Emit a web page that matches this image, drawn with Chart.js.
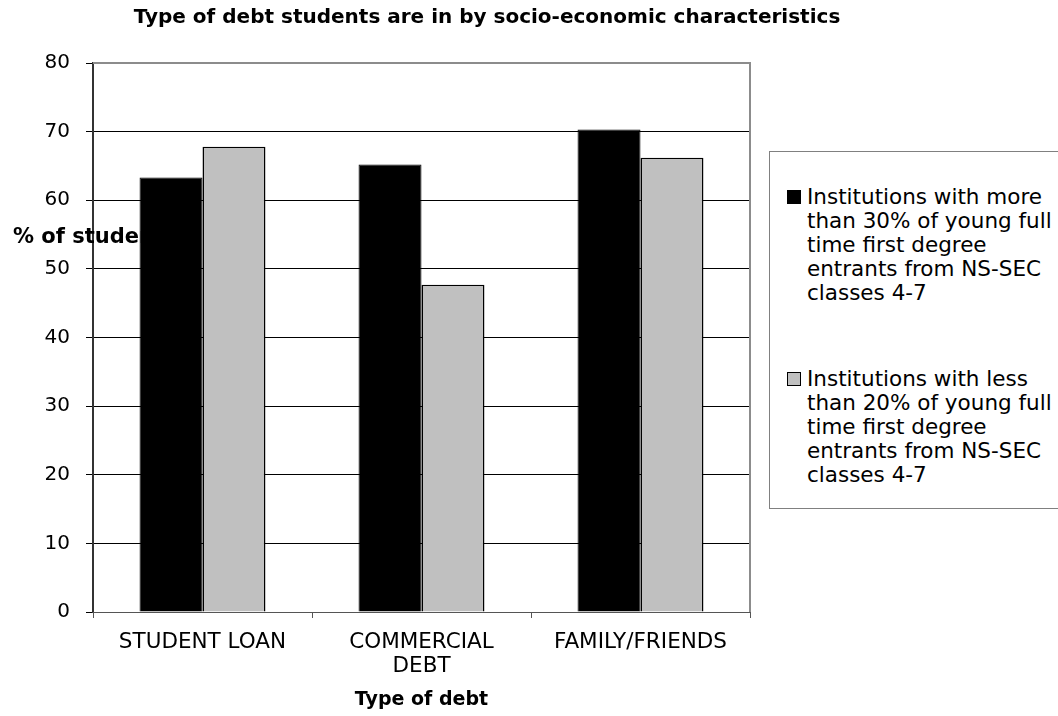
<!DOCTYPE html>
<html>
<head>
<meta charset="utf-8">
<script src="https://cdn.jsdelivr.net/npm/chart.js@4.4.0/dist/chart.umd.min.js"></script>
<style>
    body { margin: 0; background: #fff; }
    #quadro { position: relative; width: 1058px; height: 716px; overflow: hidden; }
    #grafico { position: absolute; left: 0; top: 0; }
    #legenda {
        position: absolute; left: 769px; top: 151px; width: 320px; height: 358px;
        border: 1px solid #808080; box-sizing: border-box; background: #fff;
        font-family: "DejaVu Sans", Verdana, sans-serif; font-size: 21.5px; line-height: 24px; color: #000;
    }
    .item { position: absolute; left: 37px; width: 262px; }
    .caixa { position: absolute; left: -20px; top: 5px; width: 14px; height: 14px; box-sizing: border-box; border: 1px solid #000; }
</style>
</head>
<body>
<div id="quadro">
    <canvas id="grafico" width="1058" height="716"></canvas>
    <div id="legenda"></div>
</div>
<script>
// dados do grafico
const categorias = ['STUDENT LOAN', ['COMMERCIAL', 'DEBT'], 'FAMILY/FRIENDS']
const nomesSeries = [
    'Institutions with more than 30% of young full time first degree entrants from NS-SEC classes 4-7',
    'Institutions with less than 20% of young full time first degree entrants from NS-SEC classes 4-7'
]
const maisDe30 = [63.3, 65.2, 70.3]
const menosDe20 = [67.8, 47.7, 66.2]
const ticksY = [0, 10, 20, 30, 40, 50, 60, 70, 80]

const cores = ['#000000', '#c0c0c0']

// legenda em html (texto quebrado em varias linhas)
let txt = ``
const topos = [33, 215]
for (i = 0; i < nomesSeries.length; i++) {
    txt = txt + `
    <div class="item" style="top:${topos[i]}px">
        <span class="caixa" style="background:${cores[i]}"></span>${nomesSeries[i]}
    </div>`
}
document.getElementById('legenda').innerHTML = txt

// textos desenhados no canvas: titulo e rotulo do eixo y (fica por baixo das barras)
const textos = {
    id: 'textos',
    beforeDatasetsDraw(chart) {
        const c = chart.ctx
        c.save()
        c.fillStyle = '#000'
        c.textBaseline = 'middle'
        c.font = 'bold 21px "DejaVu Sans"'
        c.textAlign = 'left'
        c.fillText('% of students', 13, 238)
        c.font = 'bold 20px "DejaVu Sans"'
        c.textAlign = 'center'
        c.fillText('Type of debt students are in by socio-economic characteristics', 487, 18)
        c.restore()
    },
    afterDatasetsDraw(chart) {
        const a = chart.chartArea
        const c = chart.ctx
        c.save()
        c.strokeStyle = '#8c8c8c'
        c.lineWidth = 2
        c.beginPath()
        c.moveTo(a.left, a.top)
        c.lineTo(a.right, a.top)
        c.lineTo(a.right, a.bottom)
        c.stroke()
        c.restore()
    }
}

var ctx = document.getElementById('grafico')

myChart = new Chart(ctx, {
    type: 'bar',
    data: {
        labels: categorias,
        datasets: [{
            label: nomesSeries[0],
            data: maisDe30,
            backgroundColor: cores[0],
            borderColor: '#000',
            borderWidth: 1
        }, {
            label: nomesSeries[1],
            data: menosDe20,
            backgroundColor: cores[1],
            borderColor: '#000',
            borderWidth: 1.5
        }]
    },
    options: {
        responsive: false,
        animation: false,
        devicePixelRatio: 1,
        categoryPercentage: 0.575,
        barPercentage: 1,
        layout: {
            padding: { top: 63, right: 308, left: 0, bottom: 0 }
        },
        plugins: {
            legend: { display: false },
            title: { display: false },
            tooltip: { enabled: false }
        },
        scales: {
            y: {
                min: 0,
                max: 80,
                afterBuildTicks: (eixo) => { eixo.ticks = ticksY.map(v => ({ value: v })) },
                afterFit: (eixo) => { eixo.width = 93 },
                ticks: {
                    color: '#000',
                    padding: 16,
                    font: { family: 'DejaVu Sans', size: 20 }
                },
                grid: { color: '#000', lineWidth: 1, tickLength: 7 },
                border: { color: '#333', width: 2 }
            },
            x: {
                afterFit: (eixo) => { eixo.height = 104 },
                ticks: {
                    color: '#000',
                    padding: 13,
                    maxRotation: 0,
                    font: { family: 'DejaVu Sans', size: 21.5, lineHeight: 1.1 }
                },
                grid: { offset: true, drawOnChartArea: false, color: '#555', tickLength: 6 },
                border: { color: '#555', width: 1 },
                title: {
                    display: true,
                    text: 'Type of debt',
                    color: '#000',
                    padding: { top: 4, bottom: 5 },
                    font: { family: 'DejaVu Sans', size: 19, weight: 'bold' }
                }
            }
        }
    },
    plugins: [textos]
})
</script>
</body>
</html>
